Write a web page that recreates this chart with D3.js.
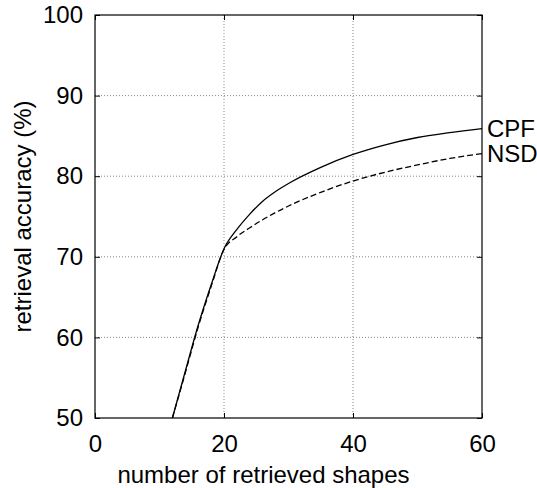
<!DOCTYPE html>
<html>
<head>
<meta charset="utf-8">
<script src="https://cdn.jsdelivr.net/npm/d3@7.9.0/dist/d3.min.js"></script>
<style>
  body { margin: 0; background: #fff; }
  text { font-family: "Liberation Sans", Arial, sans-serif; fill: #000; }
</style>
</head>
<body>
<svg id="chart" width="537" height="488"></svg>
<script>
const shapes = [12, 14, 16, 18, 20, 22, 24, 26, 28, 30, 35, 40, 45, 50, 55, 60];
const cpf = [50, 55.8, 61.5, 66.5, 71.0, 73.4, 75.3, 76.9, 78.1, 79.1, 81.1, 82.7, 83.9, 84.8, 85.4, 85.9];
const nsd = [50, 55.6, 61.3, 66.3, 70.9, 72.5, 73.6, 74.6, 75.5, 76.3, 78.0, 79.4, 80.5, 81.4, 82.2, 82.8];
const xTicks = [0, 20, 40, 60];
const yTicks = [50, 60, 70, 80, 90, 100];

const margin = { left: 95, right: 55, top: 15, bottom: 70 };
const width = 537, height = 488;
const fontSize = 24;

const svg = d3.select('#chart');

const x = d3.scaleLinear().domain([0, 60]).range([margin.left, width - margin.right]);
const y = d3.scaleLinear().domain([50, 100]).range([height - margin.bottom, margin.top]);

// grid
const grid = svg.append('g').attr('stroke', '#888').attr('stroke-width', 1)
  .attr('stroke-dasharray', '1,2');
xTicks.slice(1, -1).forEach((t) => {
  grid.append('line').attr('x1', x(t)).attr('x2', x(t))
    .attr('y1', y(50)).attr('y2', y(100));
});
yTicks.slice(1, -1).forEach((t) => {
  grid.append('line').attr('x1', x(0)).attr('x2', x(60))
    .attr('y1', y(t)).attr('y2', y(t));
});

// axes with inward ticks
const tickLen = 5;
svg.append('g').attr('transform', `translate(0,${y(50)})`)
  .call(d3.axisBottom(x).tickValues(xTicks).tickSizeInner(-tickLen).tickSizeOuter(0).tickPadding(17));
svg.append('g').attr('transform', `translate(0,${y(100)})`)
  .call(d3.axisTop(x).tickValues(xTicks).tickSizeInner(-tickLen).tickSizeOuter(0).tickFormat(''));
svg.append('g').attr('transform', `translate(${x(0)},0)`)
  .call(d3.axisLeft(y).tickValues(yTicks).tickSizeInner(-tickLen).tickSizeOuter(0).tickPadding(12));
svg.append('g').attr('transform', `translate(${x(60)},0)`)
  .call(d3.axisRight(y).tickValues(yTicks).tickSizeInner(-tickLen).tickSizeOuter(0).tickFormat(''));

svg.selectAll('.domain').remove();
svg.selectAll('.tick line').attr('stroke', '#000');
svg.selectAll('.tick text').attr('font-size', fontSize).style('font-family', '"Liberation Sans", Arial, sans-serif');

svg.append('rect')
  .attr('x', x(0)).attr('y', y(100))
  .attr('width', x(60) - x(0)).attr('height', y(50) - y(100))
  .attr('fill', 'none').attr('stroke', '#000').attr('stroke-width', 1.2);

// lines
const line = d3.line().x((d) => x(d[0])).y((d) => y(d[1])).curve(d3.curveMonotoneX);

svg.append('path')
  .datum(shapes.map((s, i) => [s, nsd[i]]))
  .attr('d', line).attr('fill', 'none').attr('stroke', '#000')
  .attr('stroke-width', 1.3).attr('stroke-dasharray', '6,3');

svg.append('path')
  .datum(shapes.map((s, i) => [s, cpf[i]]))
  .attr('d', line).attr('fill', 'none').attr('stroke', '#000')
  .attr('stroke-width', 1.3);

// series labels
svg.append('text').attr('x', x(60) + 5).attr('y', y(cpf[cpf.length - 1]))
  .attr('dy', '0.35em').attr('font-size', fontSize).text('CPF');
svg.append('text').attr('x', x(60) + 5).attr('y', y(nsd[nsd.length - 1]))
  .attr('dy', '0.35em').attr('font-size', fontSize).text('NSD');

// axis titles
svg.append('text').attr('x', (x(0) + x(60)) / 2 - 25).attr('y', 483)
  .attr('text-anchor', 'middle').attr('font-size', fontSize).text('number of retrieved shapes');
svg.append('text')
  .attr('transform', `translate(31,${(y(50) + y(100)) / 2}) rotate(-90)`)
  .attr('text-anchor', 'middle').attr('font-size', fontSize).text('retrieval accuracy (%)');
</script>
</body>
</html>
